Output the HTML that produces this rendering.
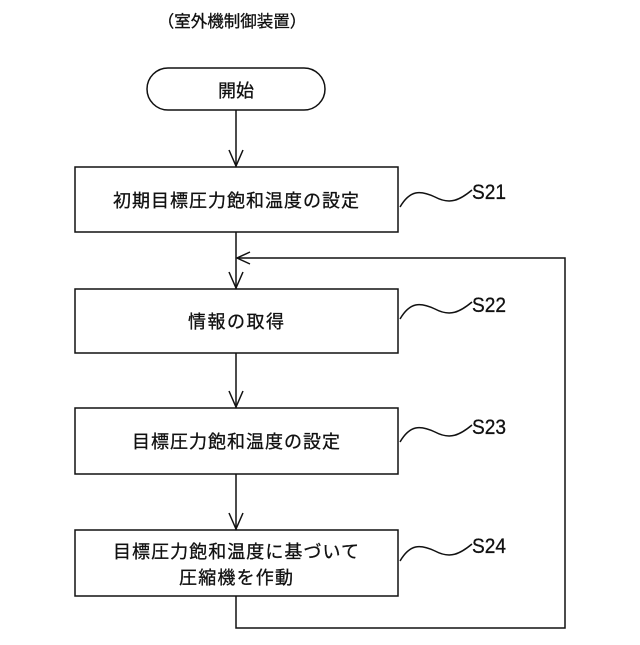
<!DOCTYPE html>
<html><head><meta charset="utf-8"><style>
body{margin:0;background:#fff}
text{font-family:"Liberation Sans","Noto Sans CJK JP",sans-serif;fill:#111;stroke:#111;stroke-width:0.3}
</style></head><body>
<svg width="640" height="640" viewBox="0 0 640 640" xmlns="http://www.w3.org/2000/svg">
<g stroke="#111" stroke-width="1.5" fill="none">
<rect x="147" y="68" width="178" height="42" rx="21"/>
<rect x="75" y="167" width="323" height="65"/>
<rect x="75" y="289" width="323" height="64"/>
<rect x="75" y="408" width="323" height="66"/>
<rect x="75" y="530" width="323" height="66"/>
<line x1="236" y1="110" x2="236" y2="167"/>
<polyline points="229,150 236,166 243,150"/>
<line x1="236" y1="232" x2="236" y2="289"/>
<polyline points="229,272 236,288 243,272"/>
<line x1="236" y1="353" x2="236" y2="408"/>
<polyline points="229,391 236,407 243,391"/>
<line x1="236" y1="474" x2="236" y2="530"/>
<polyline points="229,513 236,529 243,513"/>
<polyline points="236,596 236,628 565,628 565,258 237,258"/>
<polyline points="250,252 237,258 250,264"/>
<path d="M400,207 C410,190 420,190 435,197 C450,205 460,200 472,190"/>
<path d="M400,319 C410,302 420,302 435,309 C450,317 460,312 472,302"/>
<path d="M400,442 C410,425 420,425 435,432 C450,440 460,435 472,425"/>
<path d="M400,561 C410,544 420,544 435,551 C450,559 460,554 472,544"/>
</g>
<g text-anchor="middle">
<text x="232" y="27" font-size="16.5">（室外機制御装置）</text>
<text x="236" y="97" font-size="18">開始</text>
<text x="236" y="207" font-size="18" textLength="246" lengthAdjust="spacing">初期目標圧力飽和温度の設定</text>
<text x="236" y="328" font-size="18" textLength="96" lengthAdjust="spacing">情報の取得</text>
<text x="236" y="448" font-size="18" textLength="208" lengthAdjust="spacing">目標圧力飽和温度の設定</text>
<text x="236" y="558" font-size="18" textLength="246" lengthAdjust="spacing">目標圧力飽和温度に基づいて</text>
<text x="236" y="584" font-size="18" textLength="114" lengthAdjust="spacing">圧縮機を作動</text>
</g>
<g font-size="21">
<text x="472" y="199" textLength="34" lengthAdjust="spacingAndGlyphs">S21</text>
<text x="472" y="312" textLength="34" lengthAdjust="spacingAndGlyphs">S22</text>
<text x="472" y="434" textLength="34" lengthAdjust="spacingAndGlyphs">S23</text>
<text x="472" y="553" textLength="34" lengthAdjust="spacingAndGlyphs">S24</text>
</g>
</svg>
</body></html>
